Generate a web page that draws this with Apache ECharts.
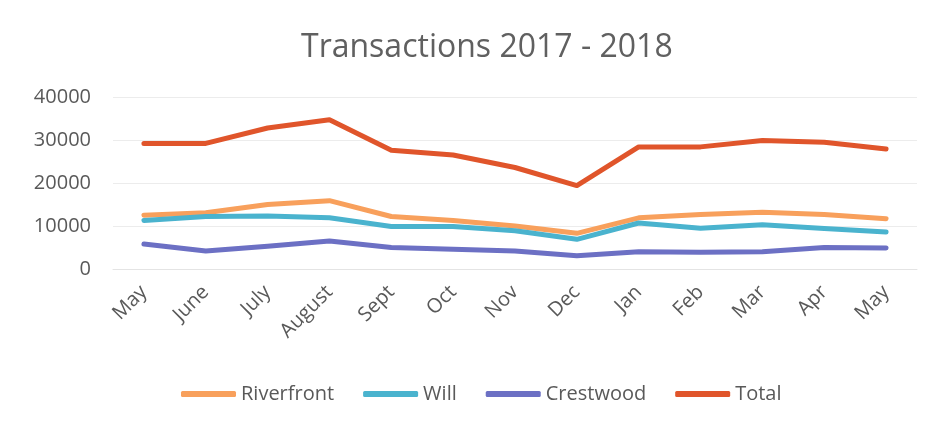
<!DOCTYPE html>
<html>
<head>
<meta charset="utf-8">
<script src="https://cdn.jsdelivr.net/npm/echarts@6/dist/echarts.min.js"></script>
<style>
html,body{margin:0;padding:0;background:#fff;}
#chart{width:937px;height:428px;}
</style>
</head>
<body>
<div id="chart"></div>
<script>
const months = ['May','June','July','August','Sept','Oct','Nov','Dec','Jan','Feb','Mar','Apr','May'];
const riverfront = [12500,13100,15000,15900,12200,11300,10000,8300,11900,12700,13200,12700,11700];
const will = [11300,12200,12300,11900,9900,9900,8900,6900,10700,9500,10300,9400,8600];
const crestwood = [5800,4200,5300,6500,5000,4600,4200,3100,4000,3900,4000,5000,4900];
const total = [29200,29200,32800,34700,27600,26500,23600,19400,28400,28400,29900,29500,27900];
const yTicks = [0,10000,20000,30000,40000];

const font = '"Open Sans", "Liberation Sans", sans-serif';
const chart = echarts.init(document.getElementById('chart'));
function mk(name, data, color){
  return {name, type:'line', data, symbol:'none', smooth:false,
    lineStyle:{width:5, color, cap:'round', join:'round'}, itemStyle:{color}};
}
chart.setOption({
  animation:false,
  title:{text:'Transactions 2017 - 2018', left:296, top:27,
    textStyle:{fontFamily:font, fontSize:32, fontWeight:'normal', color:'#606060'}},
  grid:{left:113, right:20, top:97, bottom:159},
  legend:{bottom:19, left:176, itemWidth:55, itemHeight:6, itemGap:29,
    icon:'roundRect',
    textStyle:{fontFamily:font, fontSize:20, color:'#595959'},
    data:['Riverfront','Will','Crestwood','Total']},
  xAxis:{type:'category', data:months, boundaryGap:true,
    axisLine:{show:true, lineStyle:{color:'#e4e4e4'}}, axisTick:{show:false},
    axisLabel:{rotate:45, fontFamily:font, fontSize:20, color:'#595959', margin:20, interval:0}},
  yAxis:{type:'value', min:yTicks[0], max:yTicks[yTicks.length-1], interval:10000,
    axisLine:{show:false}, axisTick:{show:false},
    splitLine:{lineStyle:{color:'#ececec'}},
    axisLabel:{fontFamily:font, fontSize:20, color:'#595959', margin:22,
      formatter:function(v){return String(v);}}},
  series:[mk('Riverfront',riverfront,'#F8A05C'), mk('Will',will,'#4AB3CE'),
          mk('Crestwood',crestwood,'#6C70C4'), mk('Total',total,'#E0552B')]
});
</script>
</body>
</html>
